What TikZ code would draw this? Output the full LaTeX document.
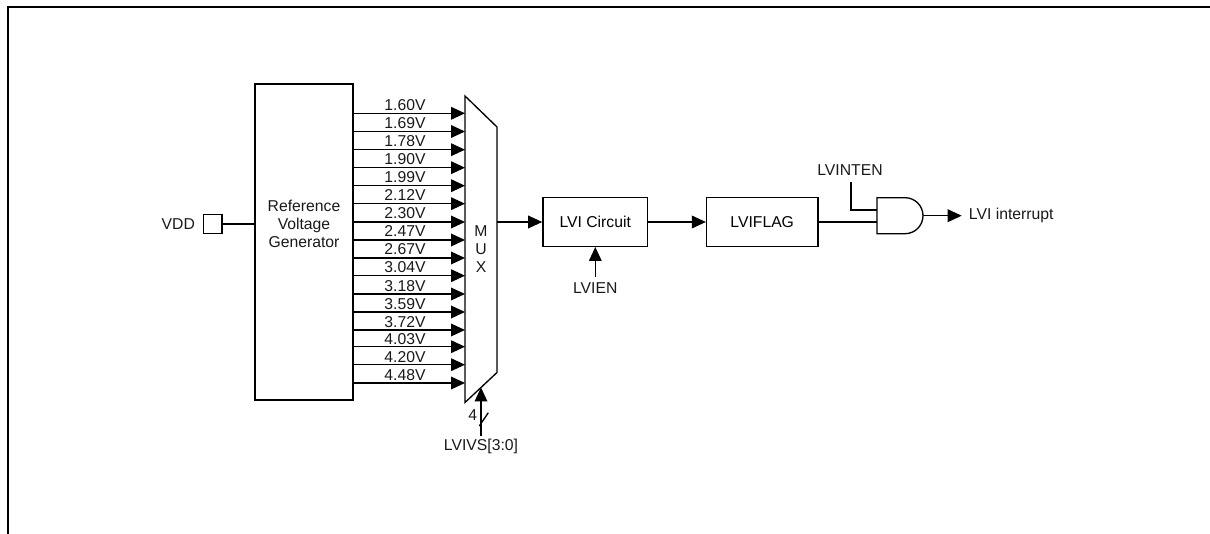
\documentclass[tikz,border=0pt]{standalone}
\usepackage{fontspec}
\setmainfont{Liberation Sans}
\usetikzlibrary{arrows.meta, positioning, calc}

\tikzset{
  wire/.style={line width=1pt},
  sig/.style={wire, -{Triangle[length=10.5pt, width=9.5pt]}},
  blockbox/.style={draw, line width=1pt, inner sep=0pt},
  lbl/.style={font=\fontsize{11.8}{13}\selectfont, inner sep=0pt, text=black!90},
}

\begin{document}
\begin{tikzpicture}[x=0.75pt, y=-0.75pt]
  \useasboundingbox (0,0) rectangle (1210,534);

  % Page frame
  \draw[line width=1.6pt] (8,534) -- (8,7) -- (1210,7);

  % Blocks
  \node[blockbox, minimum width=73.5pt, minimum height=237pt] (refgen) at (304,242) {};
  \node[lbl, align=center] (refgenlabel) at (304,224) {Reference\\[0.4pt]Voltage\\[0.4pt]Generator};
  \node[blockbox, minimum width=14pt, minimum height=14pt] (vddpad) at (212.5,224) {};
  \node[lbl, left=5.5pt of vddpad] (vdd) {VDD};
  \node[blockbox, minimum width=78.5pt, minimum height=36.5pt] (lvicircuit) at (595.2,222) {\fontsize{11.8}{13}\selectfont LVI Circuit};
  \node[blockbox, minimum width=83.5pt, minimum height=36.5pt] (lviflag) at (762.2,222) {\fontsize{11.8}{13}\selectfont LVIFLAG};

  % MUX outline
  \coordinate (muxtl) at (465,96);
  \coordinate (muxtr) at (497,127);
  \coordinate (muxbr) at (497,372.5);
  \coordinate (muxbl) at (465,402.5);
  \draw[wire, line join=miter] (muxtl) -- (muxtr) -- (muxbr) -- (muxbl) -- cycle;
  \node[lbl, align=center] (muxlabel) at (481,249) {M\\[0.4pt]U\\[0.4pt]X};

  % Voltage inputs
  \foreach \y/\ly/\volt in {113.3/105.5/1.60V, 131.5/123.5/1.69V, 149.7/141.5/1.78V, 167.7/159.5/1.90V,
      185.7/177.5/1.99V, 203.7/195.5/2.12V, 222/213.5/2.30V, 240/231.5/2.47V, 258/249.5/2.67V,
      275.7/267.5/3.04V, 294/286/3.18V, 312/304/3.59V, 330/322/3.72V, 346.7/339/4.03V,
      364.7/357/4.20V, 383/375/4.48V} {
    \draw[sig] (refgen.east |- 0,\y) -- (465,\y);
    \node[lbl] at (405,\ly) {\volt};
  }

  % Select input
  \coordinate (lvivsend) at (481,436);
  \coordinate (muxsel) at ($(muxbr)!0.5!(muxbl)$);
  \draw[sig] (lvivsend) -- (muxsel -| lvivsend);
  \draw[wire] (479.3,426) -- (488.3,412.7);
  \node[lbl] (four) at (472.7,415) {4};
  \node[lbl] (lvivs) at (481,446) {LVIVS[3:0]};

  % AND gate
  \coordinate (andtl) at (877,197.7);
  \coordinate (andbl) at (877,233.7);
  \coordinate (andout) at (923,215.7);
  \draw[wire] (andtl) -- (905,197.7) arc[start angle=90, end angle=-90, x radius=18, y radius=-18]
    -- (andbl) -- cycle;

  % Signal path
  \draw[wire] (vddpad) -- (refgen.west |- vddpad);
  \draw[sig] (muxbr |- lvicircuit.west) -- (lvicircuit.west);
  \draw[sig] (lvicircuit) -- (lviflag);
  \draw[wire] (lviflag.east) -- (lviflag.east -| andtl);

  \node[lbl, anchor=base] (lvien) at (595.3,293.5) {LVIEN};
  \coordinate (lvienend) at (595.3,277);
  \draw[sig] (lvienend) -- (lvicircuit.south -| lvienend);

  \node[lbl] (lvinten) at (850,170) {LVINTEN};
  \coordinate (lvintendown) at (851,182);
  \draw[wire] (lvintendown) -- (851,210) -- (877,210);

  \node[lbl, anchor=west] (lviint) at (968.7,215.5) {LVI interrupt};
  \draw[sig] (andout) -- (961.7,215.7);
\end{tikzpicture}
\end{document}
